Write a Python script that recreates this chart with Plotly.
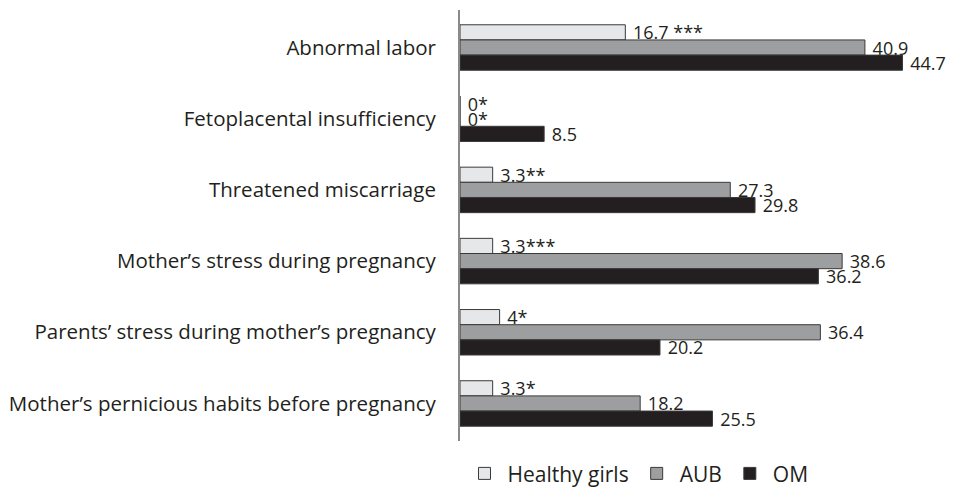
import plotly.graph_objects as go

categories = [
    "Abnormal labor",
    "Fetoplacental insufficiency",
    "Threatened miscarriage",
    "Mother’s stress during pregnancy",
    "Parents’ stress during mother’s pregnancy",
    "Mother’s pernicious habits before pregnancy",
]
healthy = [16.7, 0, 3.3, 3.3, 4, 3.3]
healthy_labels = ["16.7 ***", "0*", "3.3**", "3.3***", "4*", "3.3*"]
aub = [40.9, 0, 27.3, 38.6, 36.4, 18.2]
aub_labels = ["40.9", "0*", "27.3", "38.6", "36.4", "18.2"]
om = [44.7, 8.5, 29.8, 36.2, 20.2, 25.5]
om_labels = ["44.7", "8.5", "29.8", "36.2", "20.2", "25.5"]

FONT = "Open Sans"
TXT = "#231f20"

series = [
    ("Healthy girls", healthy, healthy_labels, "#e6e7e8"),
    ("AUB", aub, aub_labels, "#9d9ea0"),
    ("OM", om, om_labels, "#231f20"),
]

fig = go.Figure()
for name, vals, labels, color in series:
    fig.add_trace(go.Bar(
        name=name,
        y=categories,
        x=vals,
        orientation="h",
        marker=dict(color=color, line=dict(color="#3a3a3a", width=1)),
        text=["\u00a0" + t for t in labels],
        textposition="outside",
        constraintext="none",
        textfont=dict(family=FONT, size=18, color=TXT),
        cliponaxis=False,
    ))

n = len(categories)
pad = 0.027
fig.update_layout(
    width=957,
    height=488,
    margin=dict(l=460, r=2, t=10, b=47, autoexpand=False),
    paper_bgcolor="white",
    plot_bgcolor="white",
    barmode="group",
    bargap=0.361,
    bargroupgap=0,
    font=dict(family=FONT, size=19, color=TXT),
    xaxis=dict(range=[0, 50], visible=False, fixedrange=True),
    yaxis=dict(
        range=[n - 0.5 + pad, -0.5 - pad],
        automargin=False,
        showline=True,
        linecolor="#8a8a8a",
        linewidth=2,
        showgrid=False,
        ticks="",
        ticklabelstandoff=18,
        tickfont=dict(family=FONT, size=20.5, color=TXT),
        fixedrange=True,
    ),
    legend=dict(
        orientation="h",
        x=0.003,
        xanchor="left",
        y=-0.076,
        yanchor="middle",
        itemwidth=36,
        font=dict(family=FONT, size=21, color=TXT),
        traceorder="normal",
    ),
    showlegend=True,
)

fig.write_html(
    "out.html",
    config={"displayModeBar": False},
    post_script="document.body.style.margin='0';document.body.style.overflow='hidden';",
)
